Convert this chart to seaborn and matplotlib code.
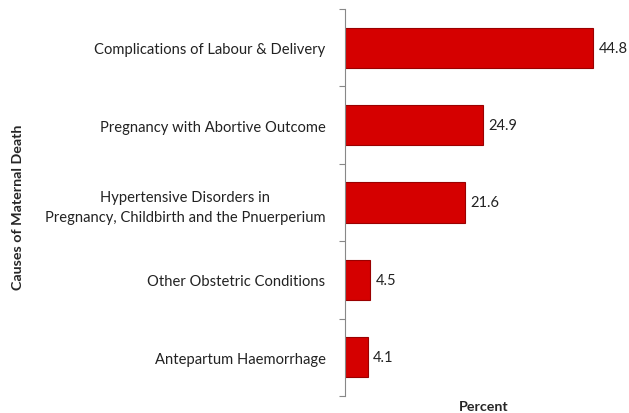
import numpy as np
import pandas as pd
import matplotlib
matplotlib.use("Agg")
import matplotlib.pyplot as plt
import seaborn as sns

causes = [
    "Complications of Labour & Delivery",
    "Pregnancy with Abortive Outcome",
    "Hypertensive Disorders in\nPregnancy, Childbirth and the Pnuerperium",
    "Other Obstetric Conditions",
    "Antepartum Haemorrhage",
]
percent = [44.8, 24.9, 21.6, 4.5, 4.1]

df = pd.DataFrame({"cause": causes, "percent": percent})

sns.set_style("white")
plt.rcParams["font.family"] = ["Lato", "DejaVu Sans"]

fig = plt.figure(figsize=(6.29, 4.14), dpi=100)
ax = fig.add_axes([0.5485, 0.041, 0.44, 0.935])

sns.barplot(data=df, x="percent", y="cause", color="#D50000", width=0.52,
            edgecolor="#9A0000", linewidth=0.8, saturation=1, ax=ax)

# value labels at bar ends
for i, v in enumerate(percent):
    ax.text(v + 1.0, i, f"{v}", va="center", ha="left", fontsize=10.5, color="#222222")

ax.set_xlim(0, 50)
ax.set_ylim(len(causes) - 0.5, -0.5)
ax.set_xticks([])
ax.set_yticks(np.arange(-0.5, len(causes), 1), minor=True)
ax.tick_params(axis="y", which="major", left=False, length=0, pad=14,
               labelsize=10.6, labelcolor="#222222")
ax.tick_params(axis="y", which="minor", left=True, length=4, color="#888888", width=0.8)
for lab in ax.get_yticklabels():
    lab.set_multialignment("center")
    lab.set_linespacing(1.55)

for s in ["top", "right", "bottom"]:
    ax.spines[s].set_visible(False)
ax.spines["left"].set_color("#888888")
ax.spines["left"].set_linewidth(0.8)

ax.set_ylabel("")
ax.set_xlabel("")
fig.text(0.769, 0.017, "Percent", ha="center", va="center", fontsize=10.3, fontweight="bold")
fig.text(0.029, 0.5, "Causes of Maternal Death", ha="center", va="center",
         rotation=90, fontsize=10.3, fontweight="bold")

fig.savefig("out.png", dpi=100)
